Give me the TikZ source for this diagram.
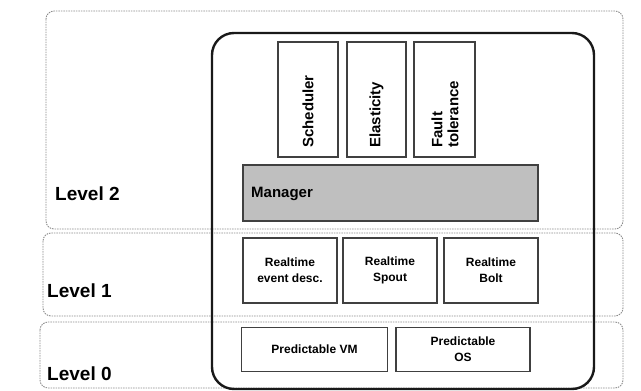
\documentclass[tikz,border=0pt]{standalone}
\usepackage{fontspec}
\setmainfont{Liberation Sans}
\begin{document}
\begin{tikzpicture}[x=1pt,y=-1pt,
  panel/.style={draw=black!45, dash pattern=on 1.5pt off 1pt, line width=0.9pt, rounded corners=8pt},
  outerbox/.style={draw=black!90, line width=2.4pt, rounded corners=22pt},
  comp/.style={draw=black!75, line width=1.2pt, inner sep=0pt, align=center},
  lvl/.style={font=\fontsize{19}{19}\selectfont\bfseries, anchor=west, inner sep=0pt},
  vlabel/.style={rotate=90, anchor=west, inner sep=0pt, align=left, font=\fontsize{15}{16}\selectfont\bfseries},
  rtlabel/.style={font=\fontsize{12}{16}\selectfont\bfseries},
  pdlabel/.style={font=\fontsize{12}{16}\selectfont\bfseries}]
\useasboundingbox (0,0) rectangle (641,391);
% level panels
\draw[panel] (46,11) rectangle (623,229);
\draw[panel] (43,233) rectangle (623,316);
\draw[panel] (40,322) rectangle (623,388);
% outer container
\draw[outerbox] (212,33) rectangle (594,389);
% level 2 components
\node[comp, minimum width=60pt, minimum height=115pt] (sched) at (308,99.5) {};
\node[comp, minimum width=59pt, minimum height=115pt] (elast) at (376.5,99.5) {};
\node[comp, minimum width=61pt, minimum height=115pt] (fault) at (444.5,99.5) {};
\node[vlabel] (schedt) at (308,148) {Scheduler};
\node[vlabel] (elastt) at (376.5,148) {Elasticity};
\node[vlabel] (faultt) at (445,148) {Fault\\tolerance};
\node[comp, fill=black!25, minimum width=295pt, minimum height=56pt] (mgr) at (390.5,193) {};
\node[anchor=west, inner sep=0pt, font=\fontsize{15}{15}\selectfont\bfseries] (mgrt) at (251,194) {Manager};
% level 1 components
\node[comp, rtlabel, minimum width=94pt, minimum height=65pt] (rted) at (290,270.5) {Realtime\\event desc.};
\node[comp, rtlabel, minimum width=94pt, minimum height=65pt] (rtsp) at (390,270.5) {Realtime\\Spout};
\node[comp, rtlabel, minimum width=94pt, minimum height=65pt] (rtbo) at (491,270.5) {Realtime\\Bolt};
% level 0 components
\node[comp, pdlabel, minimum width=146pt, minimum height=44pt] (pvm) at (314.5,349.5) {Predictable VM};
\node[comp, pdlabel, minimum width=134pt, minimum height=44pt] (pos) at (463,349.5) {Predictable\\OS};
% level labels
\node[lvl] (l2) at (55,193.5) {Level 2};
\node[lvl] (l1) at (47,291) {Level 1};
\node[lvl] (l0) at (47,374) {Level 0};
\end{tikzpicture}
\end{document}
